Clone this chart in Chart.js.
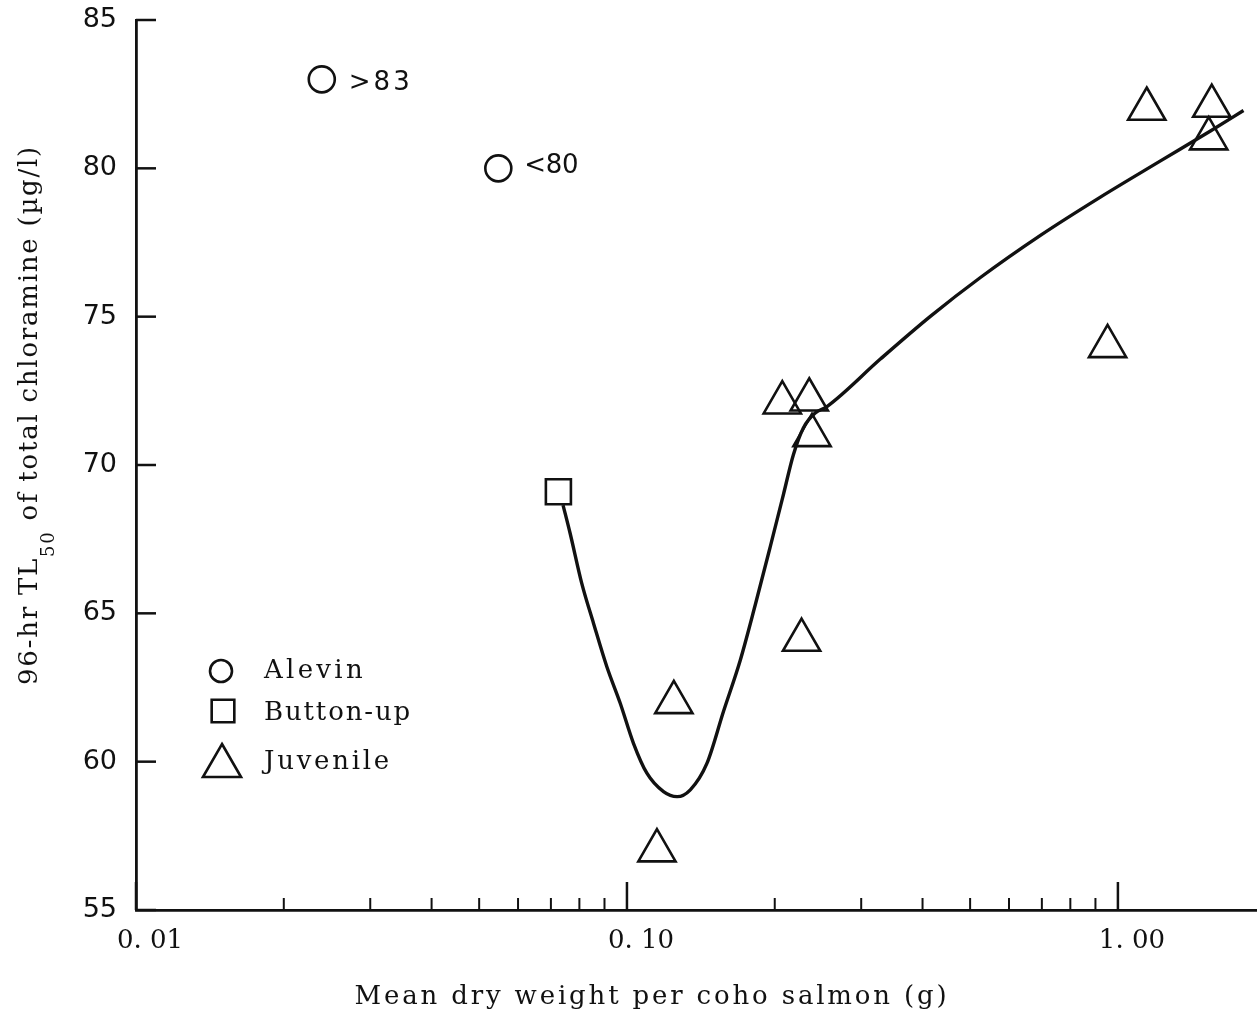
<!DOCTYPE html>
<html>
<head>
<meta charset="utf-8">
<script src="https://cdn.jsdelivr.net/npm/chart.js@4.4.1/dist/chart.umd.min.js"></script>
<style>
  body { margin: 0; background: #fff; }
  canvas { display: block; }
</style>
</head>
<body>
<canvas id="myChart" width="1257" height="1014"></canvas>
<script>
// values
const alevinX = [0.0239, 0.0547];
const alevinY = [83.0, 80.0];
const alevinNotes = ['>83', '<80'];

const buttonUpX = [0.0725];
const buttonUpY = [69.1];

const juvenileX = [0.1246, 0.1151, 0.2072, 0.2351, 0.2382, 0.2268, 0.9527, 1.1448, 1.553, 1.531];
const juvenileY = [62.0, 57.0, 72.1, 72.2, 71.0, 64.1, 74.0, 82.0, 82.1, 81.0];

// hand drawn trend curve
const curveX = [0.0741, 0.0766, 0.0809, 0.0855, 0.0910, 0.0969, 0.1031, 0.1098, 0.1187, 0.1265,
                0.1346, 0.1455, 0.1573, 0.1702, 0.1825, 0.1958, 0.2082, 0.2182, 0.2287, 0.2418,
                0.2555, 0.3282, 0.4149, 0.5247, 0.6953, 0.9212, 1.2210, 1.5434, 1.8022];
const curveY = [68.65, 67.70, 66.01, 64.66, 63.20, 61.97, 60.62, 59.61, 58.99, 58.82,
                59.05, 59.94, 61.70, 63.43, 65.28, 67.24, 68.99, 70.34, 71.25, 71.75,
                71.97, 73.57, 75.01, 76.32, 77.74, 79.03, 80.25, 81.26, 81.95];

const xTickValues = [0.01, 0.1, 1];
const xTickLabels = ['0. 01', '0. 10', '1. 00'];
const xMinorTicks = [0.02, 0.03, 0.04, 0.05, 0.06, 0.07, 0.08, 0.09,
                     0.2, 0.3, 0.4, 0.5, 0.6, 0.7, 0.8, 0.9];
const yTickValues = [55, 60, 65, 70, 75, 80, 85];

const xTitle = 'Mean dry weight per coho salmon (g)';
const yTitleParts = ['96-hr TL', '50', ' of total chloramine (\u00b5g/l)'];

const ink = '#111';
const serif = '"DejaVu Serif", serif';
const sans = '"DejaVu Sans", sans-serif';

function pts(xs, ys) {
    return xs.map((x, i) => ({ x: x, y: ys[i] }));
}

// draw text stretched to a given width using letter spacing
function fitText(ctx, text, x, y, width, align) {
    ctx.letterSpacing = '0px';
    const w0 = ctx.measureText(text).width;
    const sp = (width - w0) / text.length;
    ctx.letterSpacing = sp + 'px';
    ctx.textAlign = align || 'left';
    ctx.fillText(text, x, y);
    ctx.letterSpacing = '0px';
}

const paperMarks = {
    id: 'paperMarks',
    afterDraw(chart) {
        const ctx = chart.ctx;
        const xs = chart.scales.x, ys = chart.scales.y;
        const area = chart.chartArea;
        ctx.save();
        ctx.strokeStyle = ink;
        ctx.fillStyle = ink;
        ctx.lineCap = 'butt';

        // inward ticks
        ctx.lineWidth = 2.5;
        yTickValues.forEach(v => {
            const py = ys.getPixelForValue(v);
            ctx.beginPath();
            ctx.moveTo(area.left, py);
            ctx.lineTo(area.left + 20, py);
            ctx.stroke();
        });
        xTickValues.forEach(v => {
            const px = xs.getPixelForValue(v);
            ctx.beginPath();
            ctx.moveTo(px, area.bottom);
            ctx.lineTo(px, area.bottom - 28);
            ctx.stroke();
        });
        ctx.lineWidth = 2;
        xMinorTicks.forEach(v => {
            const px = xs.getPixelForValue(v);
            ctx.beginPath();
            ctx.moveTo(px, area.bottom);
            ctx.lineTo(px, area.bottom - 12);
            ctx.stroke();
        });

        // notes beside the alevin points
        ctx.font = '26px ' + sans;
        ctx.textBaseline = 'alphabetic';
        alevinNotes.forEach((t, i) => {
            const px = xs.getPixelForValue(alevinX[i]);
            const py = ys.getPixelForValue(alevinY[i]);
            if (i === 0) fitText(ctx, t, px + 27, py + 11, 64);
            else fitText(ctx, t, px + 26, py + 5, 54);
        });

        // legend
        const legendRows = [
            { ds: 0, r: 11, cx: 221, cy: 671, tx: 264, ty: 678, w: 102 },
            { ds: 1, r: 16, cx: 223, cy: 711, tx: 264, ty: 720, w: 148 },
            { ds: 2, r: 22, cx: 222, cy: 766, tx: 264, ty: 769, w: 128 }
        ];
        legendRows.forEach(row => {
            const ds = chart.data.datasets[row.ds];
            ctx.lineWidth = 2.6;
            ctx.strokeStyle = ink;
            ctx.fillStyle = 'rgba(0,0,0,0)';
            Chart.helpers.drawPoint(ctx, {
                pointStyle: ds.pointStyle, radius: row.r, rotation: 0, borderWidth: 2.6
            }, row.cx, row.cy);
            ctx.fillStyle = ink;
            ctx.font = '26px ' + serif;
            fitText(ctx, ds.label, row.tx, row.ty, row.w);
        });

        // x axis title
        ctx.font = '26px ' + serif;
        fitText(ctx, xTitle, 652, 1004, 595, 'center');

        // y axis title with subscript
        ctx.translate(37, 415);
        ctx.rotate(-Math.PI / 2);
        ctx.textAlign = 'left';
        const mainFont = '26px ' + serif, subFont = '18px ' + serif;
        ctx.letterSpacing = '0px';
        ctx.font = mainFont;
        const w1 = ctx.measureText(yTitleParts[0]).width;
        const w3 = ctx.measureText(yTitleParts[2]).width;
        ctx.font = subFont;
        const w2 = ctx.measureText(yTitleParts[1]).width;
        const nChars = yTitleParts.join('').length;
        const sp = (540 - (w1 + w2 + w3)) / nChars;
        const s1 = w1 + sp * yTitleParts[0].length;
        const s2 = w2 + sp * yTitleParts[1].length;
        const x0 = -270;
        ctx.letterSpacing = sp + 'px';
        ctx.font = mainFont;
        ctx.fillText(yTitleParts[0], x0, 0);
        ctx.font = subFont;
        ctx.fillText(yTitleParts[1], x0 + s1, 17);
        ctx.font = mainFont;
        ctx.fillText(yTitleParts[2], x0 + s1 + s2, 0);
        ctx.letterSpacing = '0px';
        ctx.restore();
    }
};

const markerStyle = {
    showLine: false,
    borderColor: ink,
    backgroundColor: 'rgba(0,0,0,0)',
    borderWidth: 2.6
};

new Chart(document.getElementById('myChart'), {
    type: 'scatter',
    data: {
        datasets: [
            Object.assign({ label: 'Alevin', data: pts(alevinX, alevinY), pointStyle: 'circle', pointRadius: 13 }, markerStyle),
            Object.assign({ label: 'Button-up', data: pts(buttonUpX, buttonUpY), pointStyle: 'rect', pointRadius: 17.7 }, markerStyle),
            Object.assign({ label: 'Juvenile', data: pts(juvenileX, juvenileY), pointStyle: 'triangle', pointRadius: 21.5 }, markerStyle),
            {
                label: 'trend',
                data: pts(curveX, curveY),
                showLine: true,
                borderColor: ink,
                borderWidth: 3.4,
                pointRadius: 0,
                cubicInterpolationMode: 'monotone',
                fill: false
            }
        ]
    },
    options: {
        responsive: false,
        animation: false,
        devicePixelRatio: 1,
        layout: { autoPadding: false, padding: { top: 20, right: 0, bottom: 0, left: 0 } },
        plugins: {
            legend: { display: false },
            tooltip: { enabled: false }
        },
        scales: {
            x: {
                type: 'logarithmic',
                min: 0.01,
                max: 1.92,
                afterFit: s => { s.height = 104; s.paddingLeft = 0; s.paddingRight = 0; },
                afterBuildTicks: s => { s.ticks = xTickValues.map(v => ({ value: v })); },
                grid: { display: false, drawTicks: false },
                border: { display: true, color: ink, width: 2.8 },
                ticks: {
                    color: ink,
                    font: { family: '"DejaVu Serif", serif', size: 26 },
                    padding: 16,
                    labelOffset: 14,
                    maxRotation: 0,
                    autoSkip: false,
                    callback: (v) => xTickLabels[xTickValues.indexOf(v)] || ''
                }
            },
            y: {
                min: 55,
                max: 85,
                afterFit: s => { s.width = 136; s.paddingTop = 0; s.paddingBottom = 0; },
                afterBuildTicks: s => { s.ticks = yTickValues.map(v => ({ value: v })); },
                grid: { display: false, drawTicks: false },
                border: { display: true, color: ink, width: 2.8 },
                ticks: {
                    color: ink,
                    font: { family: '"DejaVu Sans", sans-serif', size: 27 },
                    padding: 19
                }
            }
        }
    },
    plugins: [paperMarks]
});
</script>
</body>
</html>
